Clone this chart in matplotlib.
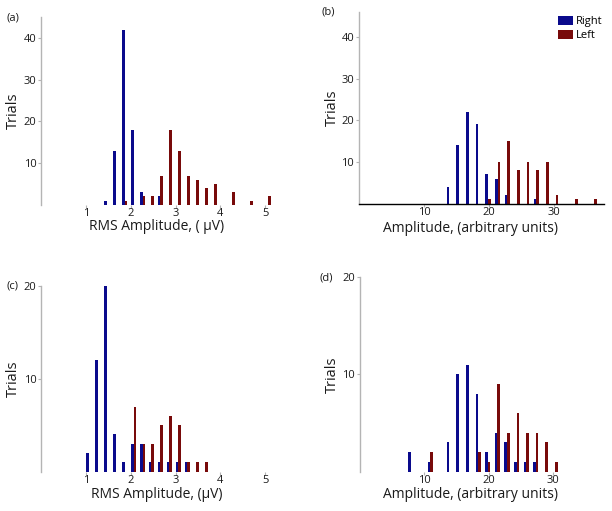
import matplotlib
matplotlib.use("Agg")
import matplotlib.pyplot as plt
import numpy as np

plt.rcParams['font.family'] = ['Open Sans', 'DejaVu Sans']

# ---- data ----
# RMS amplitude bins (panels a, c)
rms_bins = [1.06, 1.26, 1.46, 1.66, 1.86, 2.06, 2.26, 2.46, 2.66, 2.86, 3.06,
            3.26, 3.46, 3.66, 3.86, 4.06, 4.26, 4.46, 4.66, 4.86, 5.06]
a_right = [0, 0, 1, 13, 42, 18, 3, 0, 2, 0, 0, 0, 0, 0, 0, 0, 0, 0, 0, 0, 0]
a_left = [0, 0, 0, 0, 1, 0, 2, 2, 7, 18, 13, 7, 6, 4, 5, 0, 3, 0, 1, 0, 2]
c_right = [2, 12, 20, 4, 1, 3, 3, 1, 1, 1, 1, 1, 0, 0, 0, 0, 0, 0, 0, 0, 0]
c_left = [0, 0, 0, 0, 0, 7, 3, 3, 5, 6, 5, 1, 1, 1, 0, 0, 0, 0, 0, 0, 0]

# arbitrary amplitude bins (panels b, d)
arb_bins = [7.92, 9.41, 10.90, 12.39, 13.88, 15.37, 16.86, 18.35, 19.84, 21.33,
            22.82, 24.31, 25.80, 27.29, 28.78, 30.27, 31.76, 33.25, 34.74, 36.23]
b_right = [0, 0, 0, 0, 4, 14, 22, 19, 7, 6, 2, 0, 0, 1, 0, 0, 0, 0, 0, 0]
b_left = [0, 0, 0, 0, 0, 0, 0, 0, 1, 10, 15, 8, 10, 8, 10, 2, 0, 1, 0, 1]
d_right = [2, 0, 1, 0, 3, 10, 11, 8, 2, 4, 3, 1, 1, 1, 0, 0, 0, 0, 0, 0]
d_left = [0, 0, 2, 0, 0, 0, 0, 2, 1, 9, 4, 6, 4, 4, 3, 1, 0, 0, 0, 0]

series_names = ['Right', 'Left']
rms_xticks = [1, 2, 3, 4, 5]
arb_xticks = [10, 20, 30]

BLUE = '#0a0a8c'
RED = '#780a0a'
GRAY = '#b4b4b4'
TXT = '#1a1a1a'

W, H = 612, 511
fig = plt.figure(figsize=(W / 100, H / 100), dpi=100)


def px_axes(x0, y0, x1, y1):
    return fig.add_axes([x0 / W, 1 - y1 / H, (x1 - x0) / W, (y1 - y0) / H])


def panel(ax, bins, right, left, width, xlim, ylim, xticks, yticks, xlabel,
          xlab_pos, ylab_x, label, label_xy, bottom_line=False):
    bins = np.asarray(bins)
    ax.bar(bins - width / 2, right, width=width, color=BLUE, linewidth=0,
           label=series_names[0])
    ax.bar(bins + width / 2, left, width=width, color=RED, linewidth=0,
           label=series_names[1])
    ax.set_xlim(*xlim)
    ax.set_ylim(*ylim)
    ax.set_xticks(xticks)
    ax.set_yticks(yticks)
    for s in ['top', 'right']:
        ax.spines[s].set_visible(False)
    ax.spines['left'].set_color(GRAY)
    ax.spines['left'].set_linewidth(1.0)
    if bottom_line:
        ax.spines['bottom'].set_color('black')
        ax.spines['bottom'].set_linewidth(1.0)
    else:
        ax.spines['bottom'].set_visible(False)
    ax.tick_params(axis='both', length=2, color=GRAY, labelsize=8,
                   labelcolor=TXT)
    ax.tick_params(axis='x', pad=0.5)
    ax.tick_params(axis='y', pad=1.5)
    ax.set_xlabel(xlabel, fontsize=10, color=TXT)
    ax.xaxis.label.set_va('baseline')
    ax.xaxis.set_label_coords(*xlab_pos)
    ax.set_ylabel('Trials', fontsize=10.5, color=TXT)
    ax.yaxis.set_label_coords(ylab_x, 0.5)
    fig.text(label_xy[0] / W, 1 - label_xy[1] / H, label, fontsize=8,
             color=TXT, ha='left', va='center')


ax_a = px_axes(41.25, 17.35, 278.7, 204.8)
panel(ax_a, rms_bins, a_right, a_left, 0.06, (0, 5.3), (0, 45),
      rms_xticks, [10, 20, 30, 40], 'RMS Amplitude, ( μV)', (0.485, -0.137),
      -0.085, '(a)', (7, 18))

ax_b = px_axes(359, 12, 604, 203.6)
panel(ax_b, arb_bins, b_right, b_left, 0.4, (0, 37.7), (0, 46),
      arb_xticks, [10, 20, 30, 40], 'Amplitude, (arbitrary units)', (0.455, -0.15),
      -0.08, '(b)', (321, 12), bottom_line=True)
ax_b.legend(loc='upper right', bbox_to_anchor=(1.0, 0.985), frameon=False,
            fontsize=8, handlelength=1.4, handleheight=0.9, handletextpad=0.25,
            labelspacing=0.2, borderaxespad=0.0, borderpad=0.1)

ax_c = px_axes(41.25, 286, 278.7, 471.5)
panel(ax_c, rms_bins, c_right, c_left, 0.06, (0, 5.3), (0, 20),
      rms_xticks, [10, 20], 'RMS Amplitude, (μV)', (0.485, -0.141),
      -0.085, '(c)', (7, 286))

ax_d = px_axes(359.8, 277, 603, 471.5)
panel(ax_d, arb_bins, d_right, d_left, 0.4, (0, 37.7), (0, 20),
      arb_xticks, [10, 20], 'Amplitude, (arbitrary units)', (0.455, -0.138),
      -0.08, '(d)', (320, 278))

fig.savefig('out.png', dpi=100)
